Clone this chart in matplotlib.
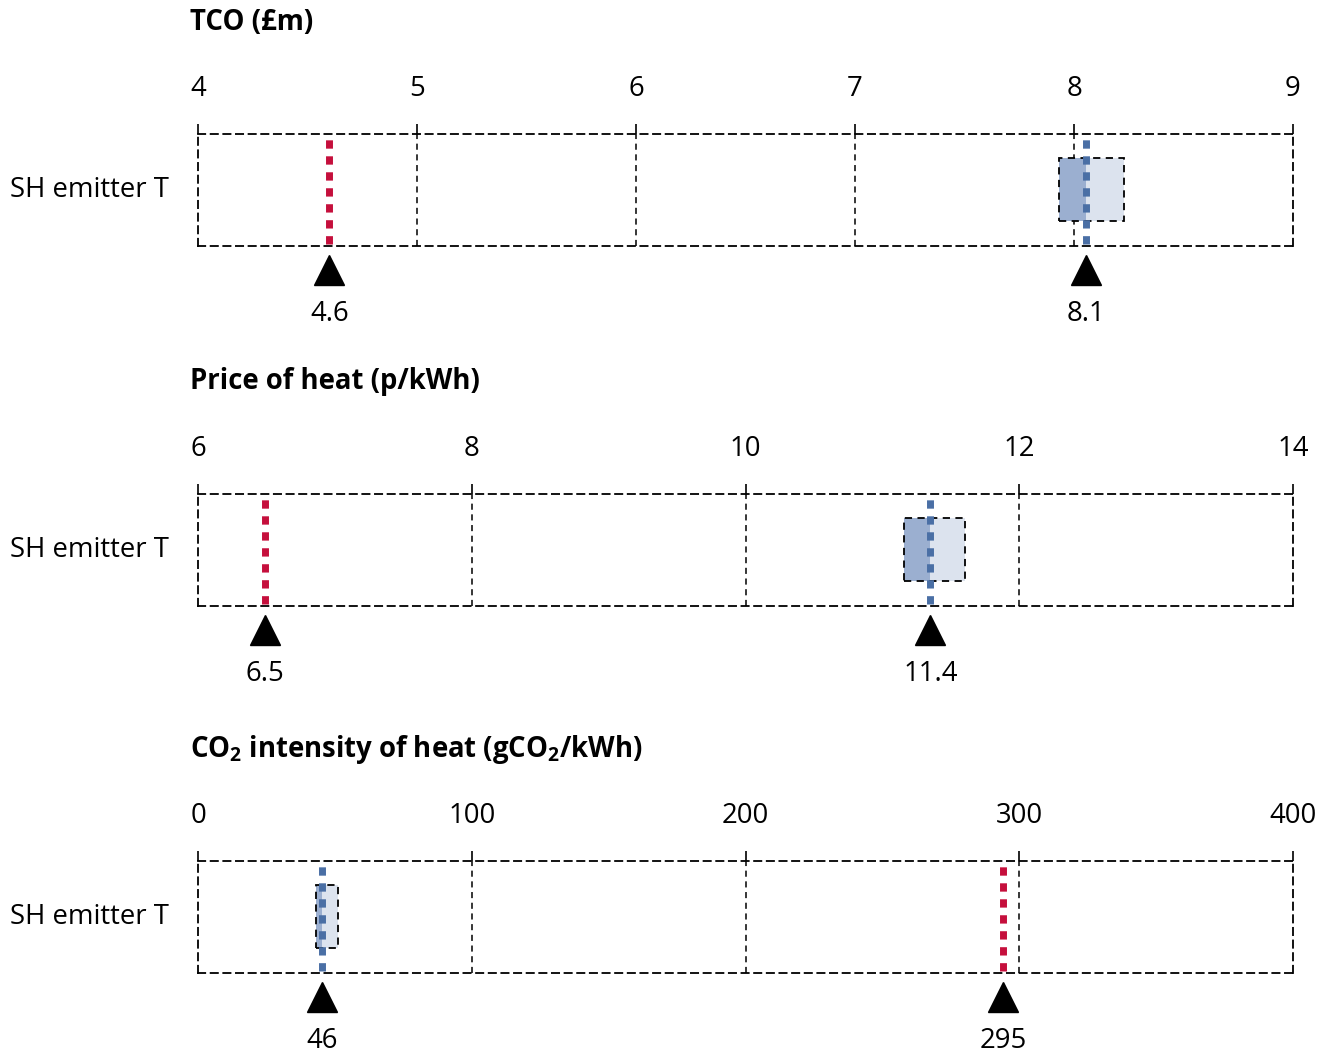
import matplotlib
matplotlib.use('Agg')
import matplotlib.pyplot as plt
from matplotlib.patches import Rectangle

plt.rcParams['font.family'] = ['Open Sans', 'DejaVu Sans']
plt.rcParams['mathtext.fontset'] = 'custom'
plt.rcParams['mathtext.rm'] = 'Open Sans'
plt.rcParams['mathtext.bf'] = 'Open Sans:bold'

# data
titles = ['TCO (£m)', 'Price of heat (p/kWh)',
          r'CO$_\mathbf{2}$ intensity of heat (gCO$_\mathbf{2}$/kWh)']
row_label = 'SH emitter T'
x_ticks = [[4, 5, 6, 7, 8, 9], [6, 8, 10, 12, 14], [0, 100, 200, 300, 400]]
box_low = [7.93, 11.16, 43.1]
box_mid = [8.055, 11.35, 45.3]
box_high = [8.23, 11.60, 51.1]
blue_val = [8.055, 11.35, 45.3]
red_val = [4.60, 6.49, 294.0]
blue_lab = ['8.1', '11.4', '46']
red_lab = ['4.6', '6.5', '295']

blue = '#4A6FA5'
red = '#C50F3C'
dark_box = '#9BAFD0'
light_box = '#DCE3EE'

W, H = 1330, 1054
fig = plt.figure(figsize=(W / 100, H / 100), dpi=100)

box_tops = [134, 494, 861]
box_h = 112
title_y = [22, 382, 750]
left, right = 198, 1293
fs = 19.8

for i in range(3):
    ax = fig.add_axes([left / W, 1 - (box_tops[i] + box_h) / H,
                       (right - left) / W, box_h / H])
    ax.set_xlim(x_ticks[i][0], x_ticks[i][-1])
    ax.set_ylim(0, 1)
    ax.set_xticks(x_ticks[i])
    ax.set_xticklabels([str(t) for t in x_ticks[i]])
    ax.set_yticks([])
    ax.xaxis.tick_top()
    ax.tick_params(axis='x', direction='out', length=7, width=1.2,
                   pad=15, labelsize=fs)
    for s in ax.spines.values():
        s.set_linestyle((0, (4, 3)))
        s.set_linewidth(1.3)
    for t in x_ticks[i][1:-1]:
        ax.axvline(t, color='black', ls=(0, (4, 3)), lw=1.1, zorder=1)

    # box split at the central value
    ax.add_patch(Rectangle((box_low[i], 0.22), box_mid[i] - box_low[i], 0.57,
                           facecolor=dark_box, edgecolor='none', zorder=2))
    ax.add_patch(Rectangle((box_mid[i], 0.22), box_high[i] - box_mid[i], 0.57,
                           facecolor=light_box, edgecolor='none', zorder=2))
    ax.add_patch(Rectangle((box_low[i], 0.22), box_high[i] - box_low[i], 0.57,
                           facecolor='none', edgecolor='black', lw=1.3,
                           ls=(0, (4, 3)), zorder=3))

    ax.plot([blue_val[i], blue_val[i]], [0.02, 0.98], color=blue, lw=5,
            ls=(0, (1.2, 1.1)), zorder=4, clip_on=False)
    ax.plot([red_val[i], red_val[i]], [0.02, 0.98], color=red, lw=5,
            ls=(0, (1.2, 1.1)), zorder=4, clip_on=False)

    for v, lab in [(blue_val[i], blue_lab[i]), (red_val[i], red_lab[i])]:
        ax.plot([v], [-0.21], marker='^', color='black', markersize=22,
                clip_on=False, linestyle='none')
        ax.text(v, -0.61, lab, ha='center', va='center', fontsize=fs)

    fig.text(10 / W, 1 - (box_tops[i] + box_h / 2) / H, row_label,
             ha='left', va='center', fontsize=fs)
    fig.text(190 / W, 1 - title_y[i] / H, titles[i], ha='left', va='center',
             fontsize=fs, fontweight='bold')

fig.savefig('out.png', dpi=100)
